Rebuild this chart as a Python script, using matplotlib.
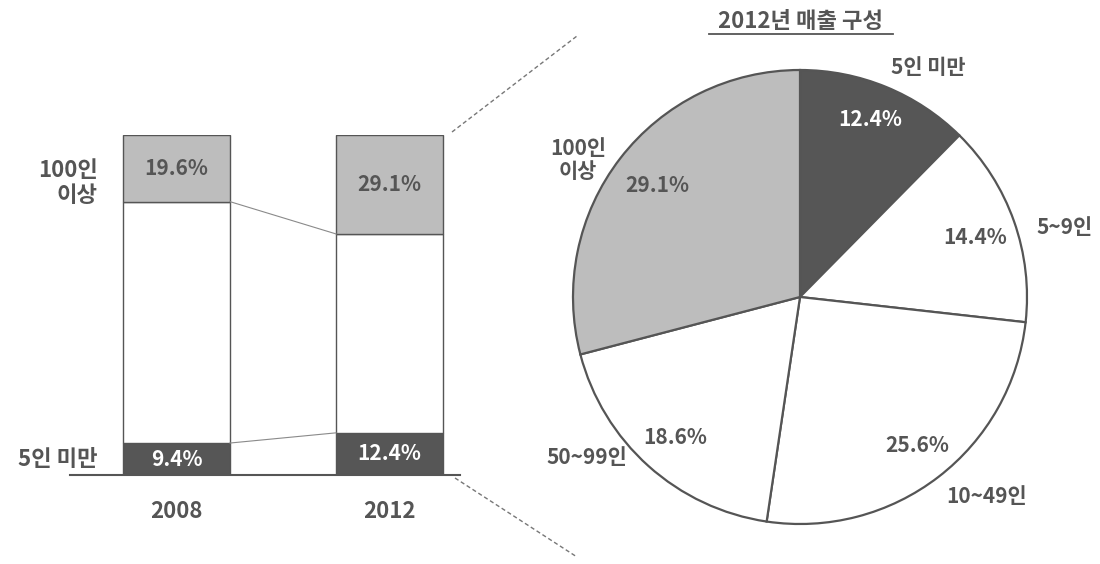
import matplotlib
matplotlib.use('Agg')
import matplotlib.pyplot as plt
from matplotlib.lines import Line2D

plt.rcParams['font.family'] = ['Noto Sans CJK KR', 'DejaVu Sans']
plt.rcParams['font.weight'] = 'bold'

# 연도별 매출 구성 (%)
years = ['2008', '2012']
small_share = [9.4, 12.4]      # 5인 미만
large_share = [19.6, 29.1]     # 100인 이상

# 2012년 규모별 구성
pie_labels = ['5인 미만', '5~9인', '10~49인', '50~99인', '100인\n이상']
pie_values = [12.4, 14.4, 25.6, 18.6, 29.1]

DARK = '#565656'
LIGHT = '#bdbdbd'
LINE = '#555555'
TEXT = '#555555'
W, H = 1100, 564
PCT_SIZE = 15
LABEL_SIZE = 16

fig = plt.figure(figsize=(11, 5.64), dpi=100)

def fx(px):
    return px / W

def fy(py):
    return 1 - py / H

# ---- 왼쪽: 누적 막대 ----
ax = fig.add_axes([fx(70), fy(475), fx(390), 340 / H])
bw = 0.502
x = [0, 1]
middle = [100 - s - l for s, l in zip(small_share, large_share)]
ax.bar(x, small_share, width=bw, color=DARK, edgecolor=LINE, linewidth=1)
ax.bar(x, middle, width=bw, bottom=small_share, color='white', edgecolor=LINE, linewidth=1)
top_bottom = [s + m for s, m in zip(small_share, middle)]
ax.bar(x, large_share, width=bw, bottom=top_bottom, color=LIGHT, edgecolor=LINE, linewidth=1)

# 막대 사이 연결선
ax.plot([bw / 2, 1 - bw / 2], small_share, color='#8a8a8a', lw=0.8)
ax.plot([bw / 2, 1 - bw / 2], top_bottom, color='#8a8a8a', lw=0.8)

for i in x:
    ax.text(i, small_share[i] / 2, f'{small_share[i]}%', ha='center', va='center',
            color='white', fontsize=PCT_SIZE, fontweight='bold')
    ax.text(i, top_bottom[i] + large_share[i] / 2, f'{large_share[i]}%', ha='center',
            va='center', color=TEXT, fontsize=PCT_SIZE, fontweight='bold')

ax.text(-0.37, 86, '100인\n이상', ha='right', va='center', color=TEXT, fontsize=LABEL_SIZE,
        fontweight='bold', linespacing=1.1)
ax.text(-0.37, 4.5, '5인 미만', ha='right', va='center', color=TEXT, fontsize=LABEL_SIZE,
        fontweight='bold')

ax.set_xlim(-0.5, 1.331)
ax.set_ylim(0, 100)
ax.set_xticks(x, years)
ax.tick_params(axis='x', length=0, pad=18, labelsize=16, labelcolor=TEXT)
ax.set_yticks([])
for side in ['left', 'right', 'top']:
    ax.spines[side].set_visible(False)
ax.spines['bottom'].set_color(LINE)
ax.spines['bottom'].set_linewidth(1.5)

# ---- 오른쪽: 2012년 원그래프 ----
cx, cy, r = 800, 297, 227
pax = fig.add_axes([fx(cx - r), fy(cy + r), fx(2 * r), 2 * r / H])
pax.pie(pie_values, colors=[DARK, 'white', 'white', 'white', LIGHT], startangle=90,
        counterclock=False, radius=1,
        wedgeprops=dict(edgecolor=LINE, linewidth=1.6))
pax.set_xlim(-1, 1)
pax.set_ylim(-1, 1)
pax.set_aspect('equal')
pax.axis('off')

pct_pos = [(0.308, 0.78), (0.771, 0.264), (0.515, -0.656), (-0.551, -0.617), (-0.630, 0.489)]
label_pos = [(0.564, 1.013), (1.167, 0.304), (0.824, -0.881), (-0.937, -0.705), (-0.978, 0.604)]
for i, v in enumerate(pie_values):
    c = 'white' if i == 0 else TEXT
    pax.text(*pct_pos[i], f'{v}%', ha='center', va='center', color=c, fontsize=PCT_SIZE,
             fontweight='bold')
    pax.text(*label_pos[i], pie_labels[i], ha='center', va='center', color=TEXT,
             fontsize=LABEL_SIZE - 1, fontweight='bold', linespacing=1.1, clip_on=False)

# 제목과 밑줄
fig.text(fx(800), fy(21), '2012년 매출 구성', ha='center', va='center', color=TEXT,
         fontsize=LABEL_SIZE, fontweight='bold')
fig.add_artist(Line2D([fx(709), fx(893)], [fy(34), fy(34)], color=TEXT, lw=1.3))

# 확대 표시 점선
fig.add_artist(Line2D([fx(452), fx(577)], [fy(132), fy(36)], color='#777777', lw=1,
                      linestyle=(0, (3, 2))))
fig.add_artist(Line2D([fx(455), fx(577)], [fy(478), fy(557)], color='#777777', lw=1,
                      linestyle=(0, (3, 2))))

fig.savefig('out.png', dpi=100, facecolor='white')
